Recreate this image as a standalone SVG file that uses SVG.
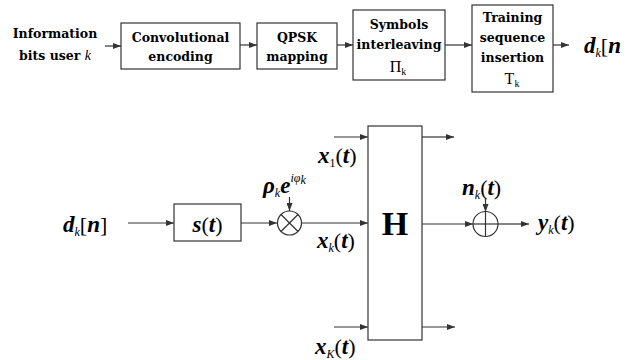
<svg xmlns="http://www.w3.org/2000/svg" width="630" height="360" viewBox="0 0 630 360">
<defs>
<marker id="ah" viewBox="0 0 8 6" refX="8" refY="3" markerWidth="8" markerHeight="6" markerUnits="userSpaceOnUse" orient="auto">
<path d="M0,0 L8,3 L0,6 Z" fill="#333"/>
</marker>
<style>
.box{fill:#fff;stroke:#333;stroke-width:1.2}
.ln{fill:none;stroke:#333;stroke-width:1.2}
.arr{fill:none;stroke:#333;stroke-width:1.2;marker-end:url(#ah)}
.t{font-family:"DejaVu Serif","Liberation Serif",serif;font-weight:bold;font-size:12.5px;fill:#000;text-anchor:middle}
.g{font-family:"Liberation Serif",serif;font-weight:normal;font-size:16px;fill:#000;text-anchor:middle}
.m{font-family:"Liberation Serif",serif;font-weight:bold;font-style:italic;font-size:23px;fill:#000}
.sub{font-family:"Liberation Serif",serif;font-weight:normal;font-style:italic;font-size:12px}
.sr{font-family:"Liberation Serif",serif;font-weight:normal;font-style:normal;font-size:12px}
.up{font-family:"Liberation Serif",serif;font-weight:normal;font-style:normal;font-size:22px}
.kk{font-family:"Liberation Serif",serif;font-weight:normal;font-style:italic;font-size:14px}
</style>
</defs>
<rect width="630" height="360" fill="#fff"/>

<g id="connectors">
<line class="arr" x1="105" y1="46" x2="121" y2="46"/>
<line class="arr" x1="240" y1="45" x2="257" y2="45"/>
<line class="arr" x1="337" y1="45" x2="353" y2="45"/>
<line class="arr" x1="445" y1="45" x2="472" y2="45"/>
<line class="arr" x1="553" y1="45" x2="569" y2="45"/>

<line class="arr" x1="128" y1="223" x2="174" y2="223"/>
<line class="arr" x1="241" y1="223" x2="277" y2="223"/>
<line class="arr" x1="289.5" y1="197" x2="289.5" y2="211"/>
<line class="arr" x1="302" y1="223" x2="368" y2="223"/>
<line class="arr" x1="334" y1="137" x2="368" y2="137"/>
<line class="arr" x1="334" y1="327" x2="368" y2="327"/>
<line class="arr" x1="422" y1="137" x2="454" y2="137"/>
<line class="arr" x1="422" y1="327" x2="455" y2="327"/>
<line class="arr" x1="422" y1="224" x2="473" y2="224"/>
<line class="arr" x1="485.5" y1="198" x2="485.5" y2="212"/>
<line class="arr" x1="498" y1="224" x2="529" y2="224"/>
</g>

<g id="input-bits">
<text class="t" x="55" y="38">Information</text>
<text class="t" x="55" y="60">bits user <tspan class="kk">k</tspan></text>
</g>

<g id="conv-encoding">
<rect class="box" x="121" y="23" width="119" height="46"/>
<text class="t" x="180.5" y="42">Convolutional</text>
<text class="t" x="180.5" y="61">encoding</text>
</g>

<g id="qpsk-mapping">
<rect class="box" x="257" y="23" width="80" height="46"/>
<text class="t" x="297" y="42">QPSK</text>
<text class="t" x="297" y="61">mapping</text>
</g>

<g id="interleaving">
<rect class="box" x="353" y="10" width="92" height="70"/>
<text class="t" x="399" y="29">Symbols</text>
<text class="t" x="399" y="49">interleaving</text>
<text class="g" x="398" y="72">Π<tspan font-size="10" dy="3">k</tspan></text>
</g>

<g id="training">
<rect class="box" x="472" y="5" width="81" height="87"/>
<text class="t" x="512.5" y="22">Training</text>
<text class="t" x="512.5" y="42">sequence</text>
<text class="t" x="512.5" y="62">insertion</text>
<text class="g" x="512" y="84">T<tspan font-size="10" dy="3">k</tspan></text>
</g>

<g id="dk-top">
<text class="m" x="584" y="53" font-size="26">d<tspan class="sub" dy="4">k</tspan><tspan class="up" font-size="25" dy="-4">[</tspan>n</text>
</g>

<g id="dk-input">
<text class="m" x="63" y="232">d<tspan class="sub" dy="4">k</tspan><tspan class="up" dy="-4">[</tspan>n<tspan class="up">]</tspan></text>
</g>

<g id="shaping-filter">
<rect class="box" x="174" y="204" width="67" height="37"/>
<text class="m" x="207.5" y="232" text-anchor="middle">s<tspan class="up">(</tspan>t<tspan class="up">)</tspan></text>
</g>

<g id="multiplier">
<circle class="ln" cx="289.5" cy="223" r="12" fill="#fff"/>
<line class="ln" x1="281" y1="214.5" x2="298" y2="231.5"/>
<line class="ln" x1="298" y1="214.5" x2="281" y2="231.5"/>
<text class="m" x="263" y="193">ρ<tspan class="sub" dy="4">k</tspan><tspan dy="-4">e</tspan><tspan class="sub" font-size="13" dy="-11">iφ</tspan><tspan class="sub" font-size="9" dy="2">k</tspan></text>
</g>

<g id="channel-H">
<rect class="box" x="368" y="126" width="54" height="214"/>
<text x="395" y="235" text-anchor="middle" font-family="Liberation Serif" font-weight="bold" font-size="34">H</text>
<text class="m" x="318" y="163">x<tspan class="sr" dy="4">1</tspan><tspan class="up" dy="-4">(</tspan>t<tspan class="up">)</tspan></text>
<text class="m" x="317" y="248">x<tspan class="sub" dy="4">k</tspan><tspan class="up" dy="-4">(</tspan>t<tspan class="up">)</tspan></text>
<text class="m" x="315" y="354">x<tspan class="sub" dy="4">K</tspan><tspan class="up" dy="-4">(</tspan>t<tspan class="up">)</tspan></text>
</g>

<g id="adder">
<circle class="ln" cx="485.5" cy="224" r="12.5" fill="#fff"/>
<line class="ln" x1="473" y1="224" x2="498" y2="224"/>
<line class="ln" x1="485.5" y1="211.5" x2="485.5" y2="236.5"/>
<text class="m" x="462" y="195">n<tspan class="sub" dy="4">k</tspan><tspan class="up" dy="-4">(</tspan>t<tspan class="up">)</tspan></text>
</g>

<g id="output-yk">
<text class="m" x="538" y="230">y<tspan class="sub" dy="4">k</tspan><tspan class="up" dy="-4">(</tspan>t<tspan class="up">)</tspan></text>
</g>
</svg>
